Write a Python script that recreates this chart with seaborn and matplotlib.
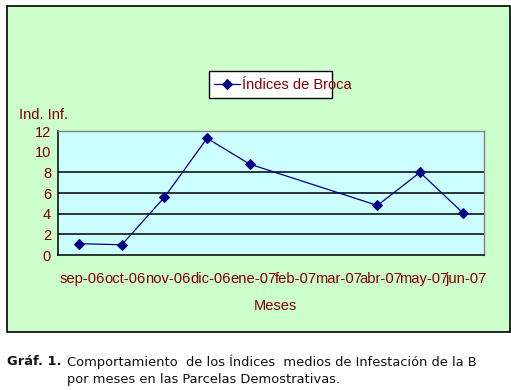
import numpy as np
import pandas as pd
import matplotlib
matplotlib.use("Agg")
import matplotlib.pyplot as plt
from matplotlib.patches import Rectangle
import seaborn as sns

# Datos
meses = ["sep-06", "oct-06", "nov-06", "dic-06", "ene-07",
         "feb-07", "mar-07", "abr-07", "may-07", "jun-07"]
indices = [1.1, 1.0, 5.6, 11.3, 8.8, np.nan, np.nan, 4.8, 8.0, 4.1]
y_ticks = [0, 2, 4, 6, 8, 10, 12]

df = pd.DataFrame({"pos": range(len(meses)), "mes": meses, "indice": indices})
df = df.dropna()

sns.set_style("white")
plt.rcParams["font.family"] = ["Liberation Sans", "DejaVu Sans"]

rojo = "#800000"
azul = "#000080"

fig = plt.figure(figsize=(5.11, 3.90), dpi=100)
fig.patch.set_facecolor("white")

# panel verde con borde
fig.patches.append(Rectangle((0.0137, 0.1487), 0.984, 0.836, transform=fig.transFigure,
                             facecolor="#CCFFCC", edgecolor="black", linewidth=1.2, zorder=-10))
# marco de la leyenda (el texto se sale del marco, como en el original)
fig.patches.append(Rectangle((0.409, 0.7487), 0.2407, 0.0692, transform=fig.transFigure,
                             facecolor="white", edgecolor="black", linewidth=1.0, zorder=-5))

ax = fig.add_axes([0.1135, 0.346, 0.8335, 0.318])
ax.set_zorder(5)
ax.set_facecolor("#CCFFFF")

for v in [2, 4, 6, 8]:
    ax.axhline(v, color="black", linewidth=1.1, zorder=1)

sns.lineplot(data=df, x="pos", y="indice", ax=ax, color=azul, marker="D",
             markersize=5, markeredgecolor=azul, linewidth=0.9,
             label="Índices de Broca", zorder=3)

ax.set_xlim(-0.5, len(meses) - 0.5)
ax.set_ylim(0, 12)
ax.set_yticks(y_ticks)
ax.set_yticklabels([str(t) for t in y_ticks], color=rojo, fontsize=10.5)
ax.set_xticks(np.arange(-0.5, len(meses), 1.0))
ax.set_xticklabels([])
ax.set_xticks(np.arange(len(meses)) + 0.08, minor=True)
ax.set_xticklabels(meses, minor=True, color=rojo, fontsize=10.6)
ax.tick_params(axis="x", which="major", direction="out", length=5, width=1, color="black")
ax.tick_params(axis="x", which="minor", length=0, pad=12)
ax.tick_params(axis="y", direction="out", length=4, width=1, color="black", pad=1)

for s in ["left", "bottom"]:
    ax.spines[s].set_color("black")
    ax.spines[s].set_linewidth(1.1)
for s in ["top", "right"]:
    ax.spines[s].set_color("#808080")
    ax.spines[s].set_linewidth(1.0)

ax.set_xlabel("")
ax.set_ylabel("")

fig.text(0.037, 0.705, "Ind. Inf.", color=rojo, fontsize=10.5, va="center", ha="left")
fig.text(0.538, 0.215, "Meses", color=rojo, fontsize=10.5, va="center", ha="center")

leg = ax.legend(loc="center left", bbox_to_anchor=(0.4188, 0.782), bbox_transform=fig.transFigure,
                frameon=False, fontsize=10.5, handlelength=1.8, handletextpad=0.15,
                borderpad=0, borderaxespad=0, labelcolor=rojo)

# pie de figura
fig.text(0.014, 0.072, "Gráf. 1.", fontsize=9.4, fontweight="bold", family="DejaVu Sans",
         va="center", ha="left", color="#111111")
fig.text(0.131, 0.072, "Comportamiento  de los Índices  medios de Infestación de la B",
         fontsize=9.4, family="DejaVu Sans", va="center", ha="left", color="#111111")
fig.text(0.131, 0.026, "por meses en las Parcelas Demostrativas.",
         fontsize=9.4, family="DejaVu Sans", va="center", ha="left", color="#111111")

fig.savefig("out.png", dpi=100)
